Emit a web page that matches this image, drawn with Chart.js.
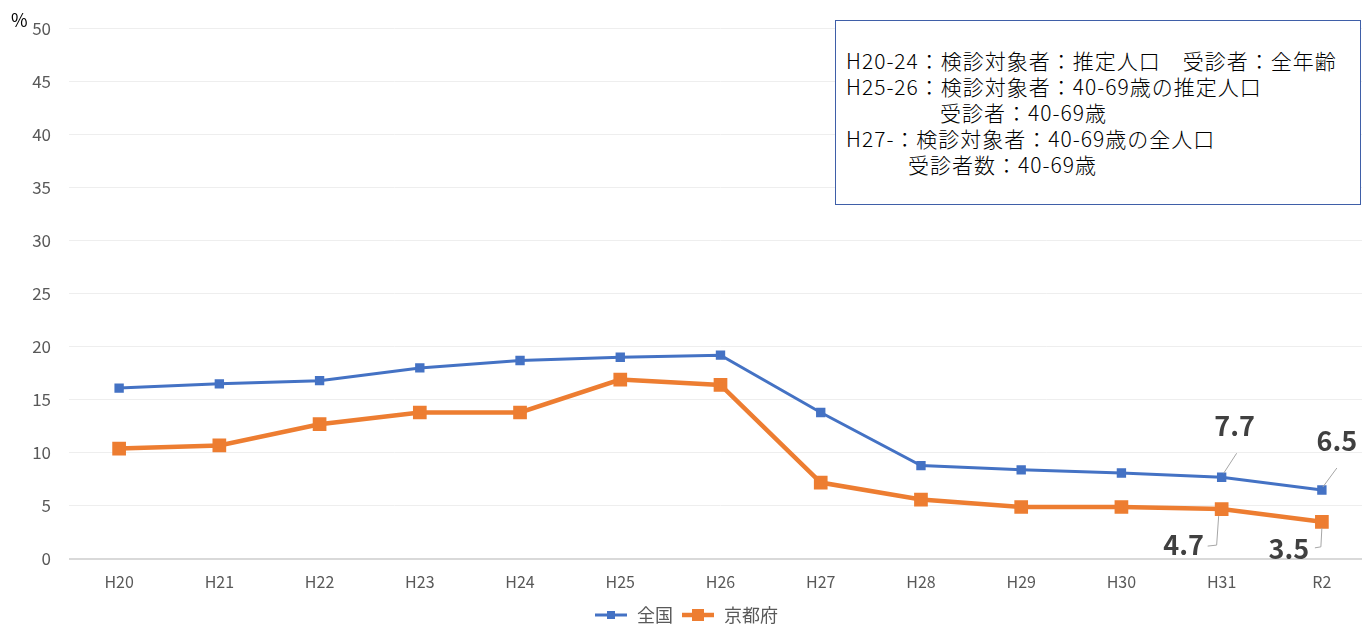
<!DOCTYPE html>
<html><head><meta charset="utf-8">
<script src="https://cdn.jsdelivr.net/npm/chart.js@4.4.1/dist/chart.umd.min.js"></script>
<style>
html,body{margin:0;padding:0;background:#fff;overflow:hidden;width:1362px;height:624px}
#wrap{position:relative;width:1372px;height:624px}
canvas{display:block}
#pct{position:absolute;left:11px;top:9px;font:18px "Noto Sans CJK JP",sans-serif;color:#000;line-height:20px}
#note{position:absolute;left:835px;top:20px;width:526px;height:185px;border:1.5px solid #3f5fa8;box-sizing:border-box;background:#fff;
 font:21px "Noto Sans CJK JP",sans-serif;color:#000;padding-top:26px;padding-left:10px;letter-spacing:1px;font-weight:300}
#note div{line-height:26px;white-space:pre;height:26px}
</style></head>
<body>
<div id="wrap">
<canvas id="c" width="1372" height="624" style="width:1372px;height:624px"></canvas>
<div id="pct">%</div>
<div id="note">
<div>H20-24：検診対象者：推定人口　受診者：全年齢</div>
<div>H25-26：検診対象者：40-69歳の推定人口</div>
<div style="padding-left:94px">受診者：40-69歳</div>
<div>H27-：検診対象者：40-69歳の全人口</div>
<div style="padding-left:62px">受診者数：40-69歳</div>
</div>
</div>
<script>
const categories = ["H20","H21","H22","H23","H24","H25","H26","H27","H28","H29","H30","H31","R2"];
const zenkoku = [16.1,16.5,16.8,18.0,18.7,19.0,19.2,13.8,8.8,8.4,8.1,7.7,6.5];
const kyotofu = [10.4,10.7,12.7,13.8,13.8,16.9,16.4,7.2,5.6,4.9,4.9,4.7,3.5];
const yTicks = [0,5,10,15,20,25,30,35,40,45,50];
const seriesNames = ["全国","京都府"];

const BLUE = "#4472C4", ORANGE = "#ED7D31";
const FONT = '"Noto Sans CJK JP", sans-serif';

function legendIcon(color, lw, sq){
  const c = document.createElement('canvas');
  c.width = 34; c.height = 14;
  const g = c.getContext('2d');
  g.strokeStyle = color; g.lineWidth = lw;
  g.beginPath(); g.moveTo(1,7); g.lineTo(33,7); g.stroke();
  g.fillStyle = color; g.fillRect(17-sq/2, 7-sq/2, sq, sq);
  return c;
}
const icons = [legendIcon(BLUE,3,8), legendIcon(ORANGE,4.5,12)];

// label placement (style only): which points get a value label and how it is offset
const labelSpec = [
  {ds:0, idx:11, dx:13, dy:-52, path:[[2,-4],[15,-24]]},
  {ds:0, idx:12, dx:15, dy:-49, path:[[1,-3],[15,-22]]},
  {ds:1, idx:11, dx:-38, dy:36, path:[[-3,7],[-5,36],[-14,37]]},
  {ds:1, idx:12, dx:-33, dy:27, path:[[0,6],[-1,25],[-7,26]]},
];

const valueLabels = {
  id:'valueLabels',
  afterDatasetsDraw(chart){
    const ctx = chart.ctx;
    ctx.save();
    labelSpec.forEach(s=>{
      const el = chart.getDatasetMeta(s.ds).data[s.idx];
      const v = chart.data.datasets[s.ds].data[s.idx];
      const x = el.x, y = el.y;
      ctx.strokeStyle = '#a6a6a6'; ctx.lineWidth = 1;
      ctx.beginPath();
      s.path.forEach((p,i)=>{ if(i===0) ctx.moveTo(x+p[0],y+p[1]); else ctx.lineTo(x+p[0],y+p[1]); });
      ctx.stroke();
      ctx.fillStyle = '#404040';
      ctx.font = 'bold 27px ' + FONT;
      ctx.textAlign = 'center'; ctx.textBaseline = 'middle';
      ctx.fillText(v.toFixed(1), x+s.dx, y+s.dy);
    });
    ctx.restore();
  }
};

new Chart(document.getElementById('c'), {
  type:'line',
  data:{
    labels: categories,
    datasets:[
      {label:seriesNames[0], data:zenkoku, borderColor:BLUE, backgroundColor:BLUE, borderWidth:3,
       pointStyle:'rect', pointRadius:4.5, pointHoverRadius:4.5, tension:0, clip:false},
      {label:seriesNames[1], data:kyotofu, borderColor:ORANGE, backgroundColor:ORANGE, borderWidth:4.5,
       pointStyle:'rect', pointRadius:6.5, pointHoverRadius:6.5, tension:0, clip:false}
    ]
  },
  options:{
    responsive:false, animation:false,
    layout:{autoPadding:false, padding:{top:28,left:0,right:0,bottom:-10}},
    plugins:{
      tooltip:{enabled:false},
      legend:{
        position:'bottom',
        labels:{
          usePointStyle:true, pointStyleWidth:34, color:'#595959', font:{family:FONT,size:18}, padding:8,
          generateLabels(chart){
            return chart.data.datasets.map((d,i)=>({
              text:d.label, pointStyle:icons[i], fillStyle:d.borderColor, strokeStyle:d.borderColor,
              lineWidth:0, hidden:false, datasetIndex:i, fontColor:'#595959'
            }));
          }
        }
      }
    },
    scales:{
      x:{
        offset:true,
        afterFit(scale){ scale.height = 39; scale.paddingLeft = 0; scale.paddingRight = 0; },
        grid:{display:false, drawTicks:false},
        border:{display:false},
        ticks:{color:'#595959', font:{family:FONT,size:16}, padding:13, autoSkip:false, maxRotation:0},
      },
      y:{
        min:0, max:50,
        afterBuildTicks(scale){ scale.ticks = yTicks.map(v=>({value:v})); },
        afterFit(scale){ scale.width = 69; },
        border:{display:false},
        grid:{
          drawTicks:false,
          color:(c)=> c.tick && c.tick.value===0 ? '#d9d9d9' : '#eeeeee',
          lineWidth:(c)=> c.tick && c.tick.value===0 ? 2 : 1
        },
        ticks:{color:'#595959', font:{family:FONT,size:17}, padding:18}
      }
    }
  },
  plugins:[valueLabels]
});
</script>
</body></html>
